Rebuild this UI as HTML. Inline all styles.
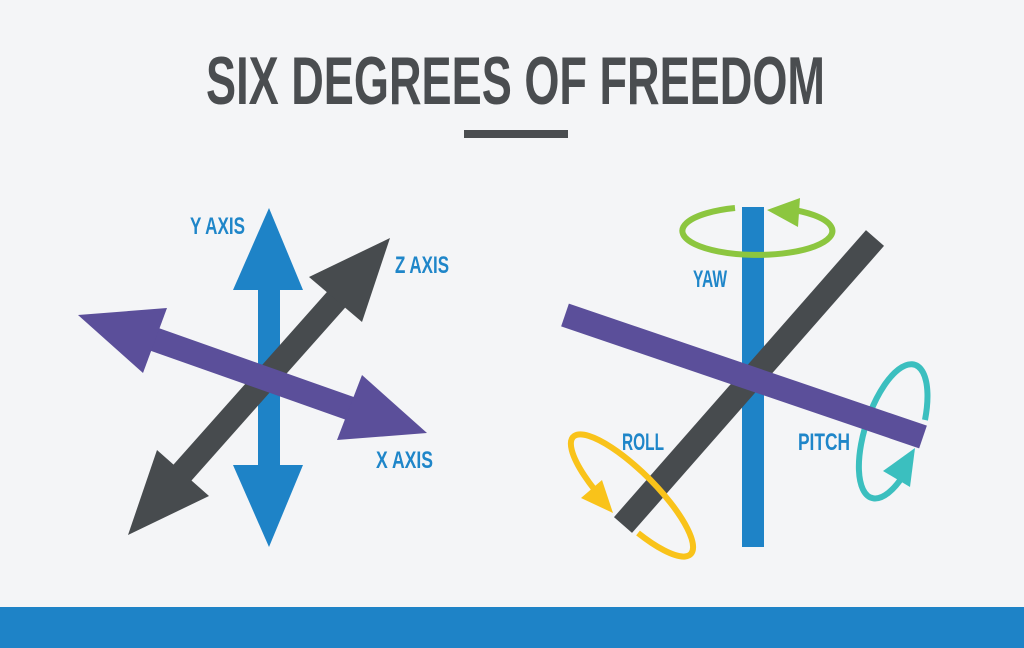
<!DOCTYPE html>
<html><head><meta charset="utf-8"><style>
html,body{margin:0;padding:0;background:#f4f5f7;}
svg{display:block;}
text{font-family:"Liberation Sans",sans-serif;font-weight:bold;}
</style></head><body>
<svg width="1024" height="648" viewBox="0 0 1024 648" xmlns="http://www.w3.org/2000/svg">
<rect width="1024" height="648" fill="#f4f5f7"/>
<text x="206" y="104" font-size="68" fill="#4a4d50" textLength="619" lengthAdjust="spacingAndGlyphs">SIX DEGREES OF FREEDOM</text>
<rect x="464" y="130" width="104" height="8" fill="#4a4d50"/>
<rect x="0" y="607" width="1024" height="41" fill="#1e83c7"/>

<!-- Left figure -->
<line x1="269" y1="280" x2="269" y2="475" stroke="#1e83c7" stroke-width="22"/>
<polygon points="269,208 303,290 233,290" fill="#1e83c7"/>
<polygon points="269,547 303,465 233,465" fill="#1e83c7"/>

<line x1="343" y1="292" x2="175" y2="481" stroke="#474b4e" stroke-width="24"/>
<polygon points="390,238 309,277 362,322" fill="#474b4e"/>
<polygon points="128,535 157,450 209,496" fill="#474b4e"/>

<line x1="145" y1="336" x2="360" y2="412" stroke="#5b4f9a" stroke-width="24"/>
<polygon points="78,315 167,308 143,373" fill="#5b4f9a"/>
<polygon points="427,433 362,375 337,440" fill="#5b4f9a"/>

<g fill="#1f86c9" font-size="24">
<text x="190" y="234" textLength="55" lengthAdjust="spacingAndGlyphs">Y AXIS</text>
<text x="395" y="273" textLength="54" lengthAdjust="spacingAndGlyphs">Z AXIS</text>
<text x="376" y="468" textLength="57" lengthAdjust="spacingAndGlyphs">X AXIS</text>
<text x="693" y="287" textLength="34" lengthAdjust="spacingAndGlyphs">YAW</text>
<text x="622" y="450" textLength="42" lengthAdjust="spacingAndGlyphs">ROLL</text>
<text x="798" y="450" textLength="52" lengthAdjust="spacingAndGlyphs">PITCH</text>
</g>

<!-- Right figure -->
<path d="M 925 420 A 28 70 18 1 0 903 476" fill="none" stroke="#3bbfbf" stroke-width="6"/>
<polygon points="915,448 883,471 910,487" fill="#3bbfbf"/>

<rect x="742" y="207" width="22" height="340" fill="#1e83c7"/>
<line x1="875" y1="238" x2="623" y2="525" stroke="#474b4e" stroke-width="24"/>
<line x1="565" y1="315" x2="923" y2="437" stroke="#5b4f9a" stroke-width="24"/>

<path d="M 638 533 A 83 24 45 1 0 606 503" fill="none" stroke="#f9c31a" stroke-width="6"/>
<polygon points="613,513 581,498 602,480" fill="#f9c31a"/>

<path d="M 735 208 A 75 24 0 1 0 788 209" fill="none" stroke="#8cc63f" stroke-width="6"/>
<polygon points="767,210 800,198 798,227" fill="#8cc63f"/>
</svg>
</body></html>
